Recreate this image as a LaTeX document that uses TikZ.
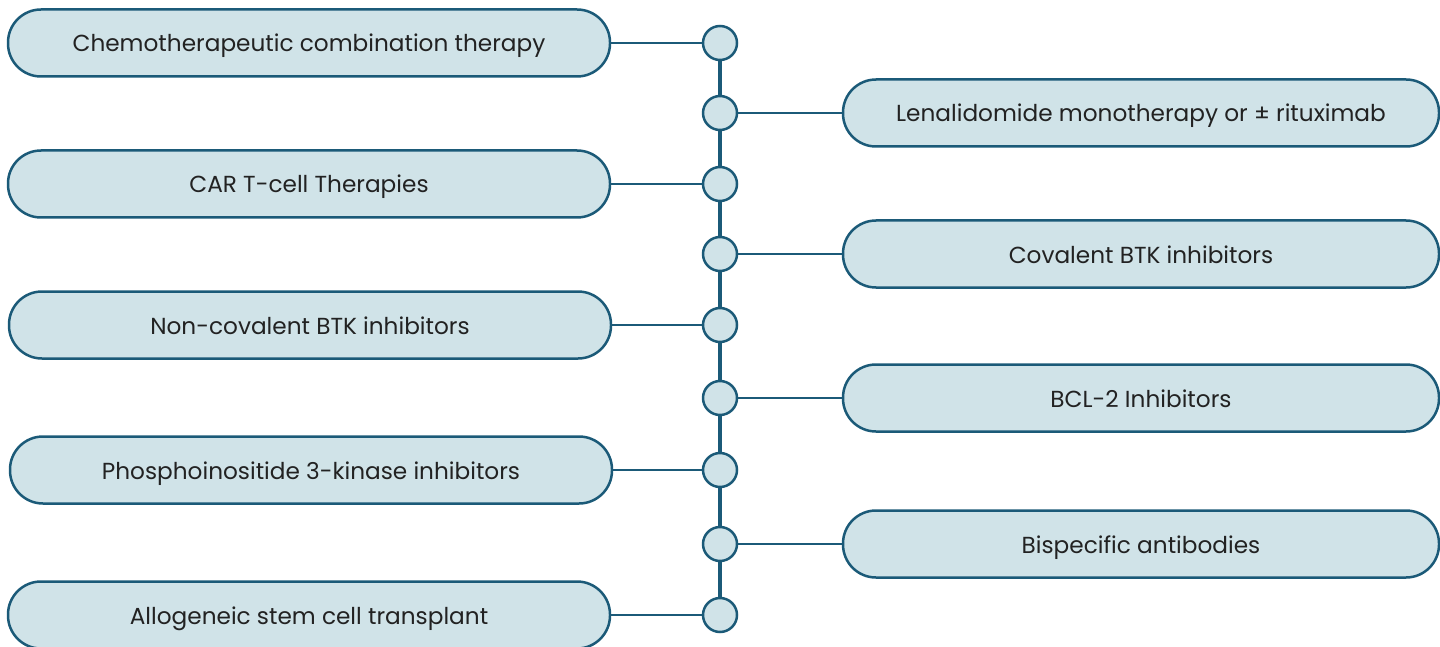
\documentclass[tikz,border=0pt]{standalone}
\usepackage{fontspec}
\setmainfont{Poppins}
\definecolor{boxfill}{HTML}{D0E3E8}
\definecolor{boxline}{HTML}{1B5A78}
\definecolor{txt}{HTML}{222222}
\begin{document}
\begin{tikzpicture}[x=1pt,y=-1pt,
  pill/.style={draw=boxline, line width=2.5pt, fill=boxfill, rounded corners=33pt,
    minimum height=67pt, inner sep=0pt, font=\fontsize{23.2}{27}\selectfont, text=txt,
    text height=18pt, text depth=0pt},
  lpill/.style={pill, minimum width=602pt},
  rpill/.style={pill, minimum width=596pt},
  dot/.style={circle, draw=boxline, line width=2.5pt, fill=boxfill, minimum size=34pt, inner sep=0pt},
  link/.style={draw=boxline, line width=2pt},
  spine/.style={draw=boxline, line width=4.5pt}]
\useasboundingbox (0,0) rectangle (1440,647);
\foreach \n/\y in {1/43,2/113,3/184,4/254,5/325,6/398,7/470,8/544,9/615}{
  \coordinate (p\n) at (720,\y);
}
\draw[spine] (p1) -- (p9);
\node[lpill] (L1) at (309,43) {Chemotherapeutic combination therapy};
\node[rpill] (R1) at (1141,113) {Lenalidomide monotherapy or ± rituximab};
\node[lpill] (L2) at (309,184) {CAR T-cell Therapies};
\node[rpill] (R2) at (1141,254) {Covalent BTK inhibitors};
\node[lpill] (L3) at (310,325) {Non-covalent BTK inhibitors};
\node[rpill] (R3) at (1141,398) {BCL-2 Inhibitors};
\node[lpill] (L4) at (311,470) {Phosphoinositide 3-kinase inhibitors};
\node[rpill] (R4) at (1141,544) {Bispecific antibodies};
\node[lpill] (L5) at (309,615) {Allogeneic stem cell transplant};
\foreach \n in {1,...,9}{ \node[dot] (c\n) at (p\n) {}; }
\draw[link] (L1.east) -- (c1.west);
\draw[link] (c2.east) -- (R1.west);
\draw[link] (L2.east) -- (c3.west);
\draw[link] (c4.east) -- (R2.west);
\draw[link] (L3.east) -- (c5.west);
\draw[link] (c6.east) -- (R3.west);
\draw[link] (L4.east) -- (c7.west);
\draw[link] (c8.east) -- (R4.west);
\draw[link] (L5.east) -- (c9.west);
\end{tikzpicture}
\end{document}
